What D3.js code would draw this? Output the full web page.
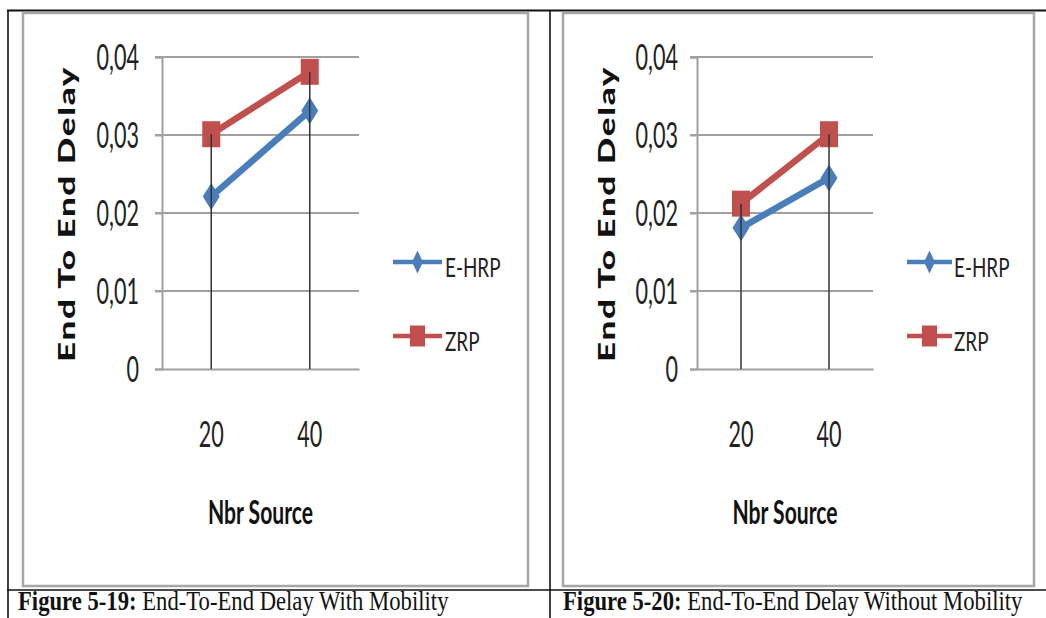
<!DOCTYPE html>
<html>
<head>
<meta charset="utf-8">
<script src="https://cdn.jsdelivr.net/npm/d3@7"></script>
<style>
  body { margin: 0; background: #fff; }
  svg { display: block; }
</style>
</head>
<body>
<div id="chartContainer"></div>
<script>

var categories    = ["20", "40"];
var seriesNames   = ["E-HRP", "ZRP"];
var yTicks        = [0, 0.01, 0.02, 0.03, 0.04];
var yTickLabels   = ["0", "0,01", "0,02", "0,03", "0,04"];

var mobilityEHRP   = [0.0221, 0.0331];
var mobilityZRP    = [0.0301, 0.0381];
var noMobilityEHRP = [0.0181, 0.0245];
var noMobilityZRP  = [0.0212, 0.0301];

var captionBold = ["Figure 5-19:", "Figure 5-20:"];
var captionText = [" End-To-End Delay With Mobility", " End-To-End Delay Without Mobility"];

var yTitle = "End To End Delay";
var xTitle = "Nbr Source";

var colors = {"E-HRP": "#4a7ebb", "ZRP": "#c0504d"};
var sans = "Lato, 'Open Sans', sans-serif";
var sx = 0.6;   // the picture is squeezed horizontally

var width = 1046, height = 618;

var svg = d3.select("#chartContainer")
  .append("svg")
    .attr("width", width)
    .attr("height", height);

// table grid
function hline(x1, x2, y, w) {
  svg.append("line").attr("x1", x1).attr("x2", x2).attr("y1", y).attr("y2", y)
    .attr("stroke", "#111").attr("stroke-width", w);
}
function vline(x, y1, y2, w) {
  svg.append("line").attr("x1", x).attr("x2", x).attr("y1", y1).attr("y2", y2)
    .attr("stroke", "#111").attr("stroke-width", w);
}
hline(7, width, 10.5, 2.2);
hline(7, width, 590, 1.6);
vline(8, 10, height, 1.6);
vline(550, 10, height, 1.6);

var charts = [
  {frame: [23, 13, 528, 586], left: 162, right: 359, labelGap: 23, titleX: 75,
   legX: 393, legW: 49, legText: 445, caption: 18,
   data: {"E-HRP": mobilityEHRP, "ZRP": mobilityZRP}},
  {frame: [563, 13, 1034, 586], left: 697, right: 873, labelGap: 19, titleX: 615,
   legX: 907, legW: 45, legText: 954, caption: 563,
   data: {"E-HRP": noMobilityEHRP, "ZRP": noMobilityZRP}}
];

charts.forEach(function(c, i) { drawChart(c, i); });

function squeeze(sel, cx, s) {
  // horizontal squeeze around a given x
  sel.attr("transform", "translate(" + cx + ",0) scale(" + s + ",1) translate(" + (-cx) + ",0)");
}

function drawChart(c, i) {
  var f = c.frame;
  svg.append("rect")
    .attr("x", f[0]).attr("y", f[1])
    .attr("width", f[2] - f[0]).attr("height", f[3] - f[1])
    .attr("fill", "#fff")
    .attr("stroke", "#a6a6a6")
    .attr("stroke-width", 2.5);

  var x = d3.scaleBand()
    .domain(categories)
    .range([c.left, c.right]);

  var y = d3.scaleLinear()
    .domain([0, 0.04])
    .range([369, 57]);

  var g = svg.append("g");

  // gridlines
  g.selectAll(".grid")
    .data(yTicks.slice(1))
    .enter().append("line")
      .attr("x1", c.left - 7).attr("x2", c.right)
      .attr("y1", function(d) { return y(d); })
      .attr("y2", function(d) { return y(d); })
      .attr("stroke", "#a0a0a0")
      .attr("stroke-width", 2);

  // y axis
  var yAxis = g.append("g")
    .attr("transform", "translate(" + c.left + ",0)")
    .call(d3.axisLeft(y).tickValues(yTicks).tickSize(7).tickPadding(c.labelGap - 7)
      .tickFormat(function(d, k) { return yTickLabels[k]; }));
  yAxis.select(".domain").attr("stroke", "#a0a0a0").attr("stroke-width", 2);
  yAxis.selectAll(".tick line").attr("stroke", "#a0a0a0").attr("stroke-width", 2);
  yAxis.selectAll(".tick text")
    .attr("font-family", sans)
    .attr("font-size", 36)
    .attr("fill", "#222")
    .attr("dy", "0.36em")
    .attr("x", -c.labelGap / sx)
    .attr("transform", "scale(" + sx + ",1)");

  // x axis
  var xAxis = g.append("g")
    .attr("transform", "translate(0,369)")
    .call(d3.axisBottom(x).tickSize(0).tickPadding(0));
  xAxis.select(".domain").attr("stroke", "#a0a0a0").attr("stroke-width", 2);
  xAxis.selectAll(".tick text")
    .attr("font-family", sans)
    .attr("font-size", 36)
    .attr("fill", "#222")
    .attr("y", 0)
    .attr("dy", 78)
    .attr("transform", "scale(" + sx + ",1)")
    .attr("x", 0);
  xAxis.selectAll(".tick")
    .attr("transform", function(d) { return "translate(" + (x(d) + x.bandwidth() / 2) + ",0)"; });

  // series
  seriesNames.forEach(function(name) {
    var vals = c.data[name];
    g.append("path")
      .datum(vals)
      .attr("fill", "none")
      .attr("stroke", colors[name])
      .attr("stroke-width", 6.5)
      .attr("d", d3.line()
        .x(function(d, k) { return x(categories[k]) + x.bandwidth() / 2; })
        .y(function(d) { return y(d); }));
    g.selectAll(".m" + name)
      .data(vals)
      .enter().append("path")
        .attr("fill", colors[name])
        .attr("transform", function(d, k) {
          return "translate(" + (x(categories[k]) + x.bandwidth() / 2) + "," + y(d) + ")";
        })
        .attr("d", name == "ZRP" ? marker("square", 18, 26) : marker("diamond", 17, 27));
  });

  // drop lines from the highest point down to the axis
  g.selectAll(".drop")
    .data(categories)
    .enter().append("line")
      .attr("x1", function(d) { return x(d) + x.bandwidth() / 2; })
      .attr("x2", function(d) { return x(d) + x.bandwidth() / 2; })
      .attr("y1", function(d, k) { return y(d3.max(seriesNames, function(n) { return c.data[n][k]; })); })
      .attr("y2", y(0))
      .attr("stroke", "#333")
      .attr("stroke-width", 1.5);

  // axis titles
  g.append("text")
    .attr("transform", "translate(" + c.titleX + ",214) scale(0.64,1) rotate(-90)")
    .attr("text-anchor", "middle")
    .attr("font-family", sans)
    .attr("font-weight", "900")
    .attr("font-size", 35)
    .attr("letter-spacing", 1.6)
    .attr("fill", "#111")
    .text(yTitle);

  var xt = g.append("text")
    .attr("x", (c.left + c.right) / 2)
    .attr("y", 524)
    .attr("text-anchor", "middle")
    .attr("font-family", sans)
    .attr("font-weight", "bold")
    .attr("font-size", 33)
    .attr("fill", "#111")
    .text(xTitle);
  squeeze(xt, (c.left + c.right) / 2, 0.64);

  // legend
  var legY = [262, 336];
  seriesNames.forEach(function(name, k) {
    var lg = g.append("g");
    lg.append("line")
      .attr("x1", c.legX).attr("x2", c.legX + c.legW)
      .attr("y1", legY[k]).attr("y2", legY[k])
      .attr("stroke", colors[name])
      .attr("stroke-width", 4.5);
    lg.append("path")
      .attr("fill", colors[name])
      .attr("transform", "translate(" + (c.legX + c.legW / 2) + "," + legY[k] + ")")
      .attr("d", name == "ZRP" ? marker("square", 15, 21) : marker("diamond", 11, 23));
    var lt = lg.append("text")
      .attr("x", c.legText)
      .attr("y", legY[k] + 15)
      .attr("font-family", sans)
      .attr("font-size", 27)
      .attr("fill", "#222")
      .text(name);
    squeeze(lt, c.legText, 0.7);
  });

  // caption
  var cap = svg.append("text")
    .attr("transform", "translate(" + c.caption + ",610) scale(0.84,1)")
    .attr("font-family", "'Liberation Serif', 'Times New Roman', serif")
    .attr("font-size", 27)
    .attr("fill", "#111");
  cap.append("tspan").attr("font-weight", "bold").text(captionBold[i]);
  cap.append("tspan").text(captionText[i]);
}

function marker(type, w, h) {
  if (type == "square")
    return "M" + (-w / 2) + "," + (-h / 2) + "h" + w + "v" + h + "h" + (-w) + "Z";
  return "M0," + (-h / 2) + "L" + (w / 2) + ",0L0," + (h / 2) + "L" + (-w / 2) + ",0Z";
}

</script>
</body>
</html>
